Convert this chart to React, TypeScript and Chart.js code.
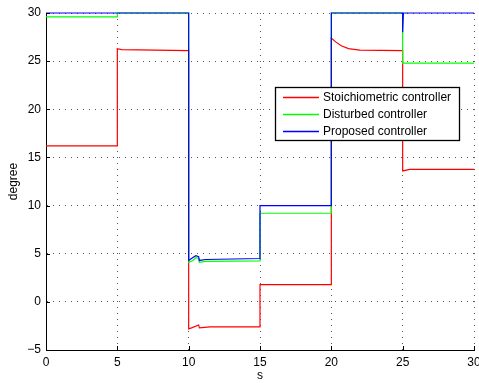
import React, { useEffect, useRef } from "react";
import { Chart, registerables } from "chart.js";
Chart.register(...registerables);

const xTicks = [0, 5, 10, 15, 20, 25, 30];
const yTicks = [-5, 0, 5, 10, 15, 20, 25, 30];
const xLabel = "s";
const yLabel = "degree";
const seriesNames = ["Stoichiometric controller", "Disturbed controller", "Proposed controller"];
const seriesColors = ["#ff0000", "#00ff00", "#0000ff"];

const stoichX = [0, 5, 5, 5.3, 10, 10, 10.2, 10.7, 10.75, 11.5, 15, 15, 20, 20, 20.3, 20.7, 21.2, 22, 25, 25, 25.5, 30];
const stoichY = [16.2, 16.2, 26.3, 26.2, 26.1, -2.8, -2.7, -2.4, -2.7, -2.6, -2.6, 1.8, 1.8, 27.4, 27.0, 26.6, 26.3, 26.15, 26.1, 13.6, 13.75, 13.75];

const disturbedX = [0, 5, 5, 10, 10, 10.3, 10.5, 10.7, 10.75, 11.2, 15, 15, 20, 20, 25, 25, 30];
const disturbedY = [29.6, 29.6, 30, 30, 4.1, 4.3, 4.6, 4.5, 4.1, 4.2, 4.25, 9.2, 9.2, 30, 30, 24.8, 24.8];

const proposedX = [0, 10, 10, 10.3, 10.5, 10.7, 10.75, 11.2, 15, 15, 20, 20, 25, 25, 25.05, 30];
const proposedY = [30, 30, 4.3, 4.6, 4.8, 4.7, 4.3, 4.4, 4.5, 10, 10, 30, 30, 28, 30, 30];

const FONT = "'Liberation Sans', Arial, Helvetica, sans-serif";

function pts(xs: number[], ys: number[]) {
  return xs.map((x, i) => ({ x, y: ys[i] }));
}

const overlayPlugin = {
  id: "overlay",
  afterDraw(chart: any) {
    const { ctx, chartArea, scales } = chart;
    const xs = scales.x;
    const ys = scales.y;
    ctx.save();
    ctx.setLineDash([]);
    // inward ticks
    ctx.strokeStyle = "#000";
    ctx.lineWidth = 1;
    ctx.beginPath();
    xTicks.forEach((t) => {
      const px = Math.round(xs.getPixelForValue(t)) + 0.5;
      ctx.moveTo(px, chartArea.bottom);
      ctx.lineTo(px, chartArea.bottom - 4);
    });
    yTicks.forEach((t) => {
      const py = Math.round(ys.getPixelForValue(t)) + 0.5;
      ctx.moveTo(chartArea.left, py);
      ctx.lineTo(chartArea.left + 4, py);
    });
    ctx.stroke();

    // axis titles
    ctx.fillStyle = "#000";
    ctx.font = `12px ${FONT}`;
    ctx.textAlign = "center";
    ctx.textBaseline = "middle";
    ctx.fillText(xLabel, (chartArea.left + chartArea.right) / 2, 376);
    ctx.save();
    ctx.translate(14, (chartArea.top + chartArea.bottom) / 2);
    ctx.rotate(-Math.PI / 2);
    ctx.fillText(yLabel, 0, 0);
    ctx.restore();

    // legend box
    const bx = 275.5, by = 87.5, bw = 184, bh = 53;
    ctx.fillStyle = "#fff";
    ctx.fillRect(bx, by, bw, bh);
    ctx.strokeStyle = "#000";
    ctx.lineWidth = 1.3;
    ctx.strokeRect(bx, by, bw, bh);
    ctx.textAlign = "left";
    ctx.font = `12px ${FONT}`;
    seriesNames.forEach((name, i) => {
      const y = 97 + i * 17;
      ctx.beginPath();
      ctx.strokeStyle = seriesColors[i];
      ctx.lineWidth = 1.3;
      ctx.moveTo(283, y + 0.5);
      ctx.lineTo(319, y + 0.5);
      ctx.stroke();
      ctx.fillStyle = "#000";
      ctx.fillText(name, 323, y + 1);
    });
    ctx.restore();
  },
};

export default function App() {
  const ref = useRef<HTMLCanvasElement>(null);
  useEffect(() => {
    if (!ref.current) return;
    const lineDs = (label: string, xs: number[], ys: number[], color: string, order: number) => ({
      label,
      data: pts(xs, ys),
      borderColor: color,
      backgroundColor: color,
      borderWidth: 1.2,
      pointRadius: 0,
      fill: false,
      tension: 0,
      clip: 4,
      order,
    });
    const chart = new Chart(ref.current, {
      type: "line",
      data: {
        datasets: [
          lineDs(seriesNames[0], stoichX, stoichY, seriesColors[0], 3),
          lineDs(seriesNames[1], disturbedX, disturbedY, seriesColors[1], 2),
          lineDs(seriesNames[2], proposedX, proposedY, seriesColors[2], 1),
        ],
      },
      options: {
        responsive: false,
        animation: false,
        layout: { padding: { left: 0, top: 13, right: 5, bottom: 0 } },
        plugins: { legend: { display: false }, tooltip: { enabled: false } },
        scales: {
          x: {
            type: "linear",
            min: 0,
            max: 30,
            afterBuildTicks: (s: any) => {
              s.ticks = xTicks.map((v) => ({ value: v }));
            },
            afterFit: (s: any) => {
              s.height = 33;
              s.paddingLeft = 0;
              s.paddingRight = 0;
            },
            grid: { color: "rgba(0,0,0,0.65)", lineWidth: 1, drawTicks: false },
            border: { display: true, color: "#000", width: 1, dash: [1, 5] },
            ticks: {
              color: "#000",
              padding: 5,
              maxRotation: 0,
              font: { family: FONT, size: 12 },
              callback: (v: any) => String(v).replace("-", "\u2212"),
            },
          },
          y: {
            type: "linear",
            min: -5,
            max: 30,
            afterBuildTicks: (s: any) => {
              s.ticks = yTicks.map((v) => ({ value: v }));
            },
            afterFit: (s: any) => {
              s.width = 46;
              s.paddingTop = 0;
              s.paddingBottom = 0;
            },
            grid: { color: "rgba(0,0,0,0.65)", lineWidth: 1, drawTicks: false },
            border: { display: true, color: "#000", width: 1, dash: [1, 5] },
            ticks: {
              color: "#000",
              padding: 5,
              font: { family: FONT, size: 12 },
              callback: (v: any) => String(v).replace("-", "\u2212"),
            },
          },
        },
      },
      plugins: [overlayPlugin],
    } as any);
    return () => chart.destroy();
  }, []);
  return (
    <div style={{ position: "fixed", left: 0, top: 0, width: 479, height: 383, background: "#fff" }}>
      <canvas ref={ref} width={479} height={383} style={{ width: 479, height: 383, display: "block" }} />
    </div>
  );
}
